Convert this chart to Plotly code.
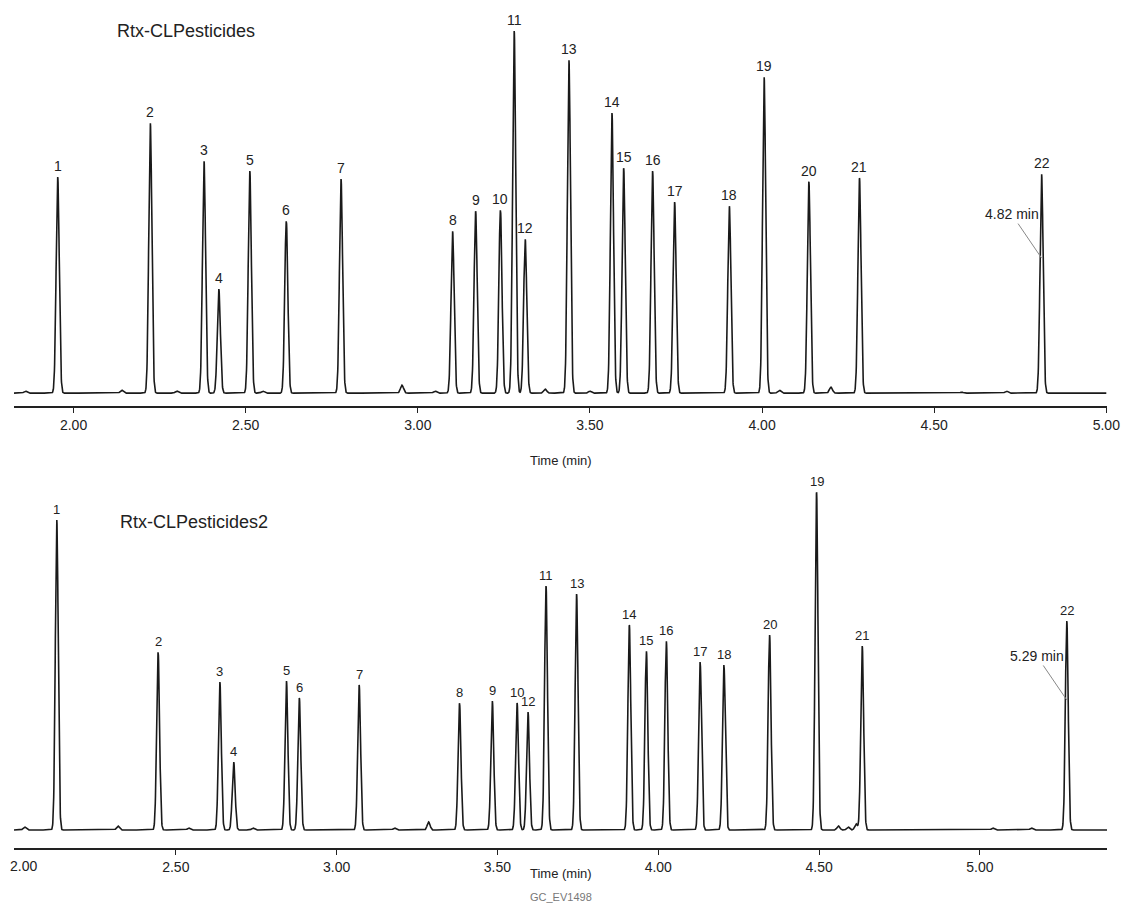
import numpy as np
import plotly.graph_objects as go

# peak retention times (min) and heights, Rtx-CLPesticides
top_rt = [1.954, 2.223, 2.379, 2.422, 2.512, 2.618, 2.777, 3.101, 3.168, 3.240, 3.280,
          3.312, 3.439, 3.564, 3.598, 3.682, 3.746, 3.905, 4.006, 4.136, 4.283, 4.812]
top_h = [216, 270, 232, 104, 222, 172, 214, 162, 182, 183, 362,
         154, 333, 280, 225, 222, 191, 187, 316, 211, 215, 219]
top_small_rt = [1.86, 2.14, 2.30, 2.55, 2.954, 3.05, 3.37, 3.50, 4.05, 4.20, 4.58, 4.71]
top_small_h = [2, 3, 2, 2, 8, 2, 4, 2, 3, 6, 1, 2]

# Rtx-CLPesticides2
bot_rt = [2.130, 2.445, 2.637, 2.680, 2.844, 2.884, 3.070, 3.382, 3.484, 3.561, 3.651,
          3.595, 3.746, 3.910, 3.963, 4.025, 4.130, 4.204, 4.492, 4.346, 4.634, 5.270]
bot_h = [310, 178, 148, 68, 149, 132, 145, 127, 129, 127, 244,
         118, 236, 205, 179, 189, 168, 165, 338, 195, 184, 209]
bot_small_rt = [2.03, 2.32, 2.54, 2.74, 3.286, 3.18, 4.56, 4.59, 4.615, 5.04, 5.16]
bot_small_h = [3, 4, 2, 2, 8, 2, 4, 3, 6, 2, 2]

labels = [str(i) for i in range(1, 23)]


def trace(t, rts, hs, srt, sh, sig):
    y = np.zeros_like(t)
    for r, h in zip(list(rts) + list(srt), list(hs) + list(sh)):
        y += h * np.exp(-0.5 * ((t - r) / sig) ** 2)
    return y


t1 = np.linspace(1.827, 5.0, 6000)
t2 = np.linspace(1.997, 5.41, 6000)
y1 = trace(t1, top_rt, top_h, top_small_rt, top_small_h, 0.0045)
y2 = trace(t2, bot_rt, bot_h, bot_small_rt, bot_small_h, 0.0045)

fig = go.Figure()
fig.add_trace(go.Scatter(x=t1, y=y1, mode="lines", line=dict(color="#1a1a1a", width=1.6),
                         xaxis="x", yaxis="y", hoverinfo="skip"))
fig.add_trace(go.Scatter(x=t2, y=y2, mode="lines", line=dict(color="#1a1a1a", width=1.6),
                         xaxis="x2", yaxis="y2", hoverinfo="skip"))

font = dict(family="Liberation Sans, Arial, sans-serif", size=14, color="#222")
H = 840  # plot area height in px
ann = []
for r, h, lab in zip(top_rt, top_h, labels):
    ann.append(dict(x=r, y=h, xref="x", yref="y", text=lab, showarrow=False,
                    yanchor="bottom", yshift=1, font=font))
for r, h, lab in zip(bot_rt, bot_h, labels):
    ann.append(dict(x=r, y=h, xref="x2", yref="y2", text=lab, showarrow=False,
                    yanchor="bottom", yshift=1, font=dict(font, size=13)))
ann += [
    dict(x=2.12, y=362, xref="x", yref="y", text="Rtx-CLPesticides", showarrow=False,
         xanchor="left", font=dict(font, size=18)),
    dict(x=2.32, y=308, xref="x2", yref="y2", text="Rtx-CLPesticides2", showarrow=False,
         xanchor="left", font=dict(font, size=18)),
    dict(x=4.812, y=135, xref="x", yref="y", text="4.82 min", showarrow=True, arrowhead=0,
         arrowcolor="#888", arrowwidth=1, ax=-30, ay=-44, font=font),
    dict(x=5.270, y=130, xref="x2", yref="y2", text="5.29 min", showarrow=True, arrowhead=0,
         arrowcolor="#888", arrowwidth=1, ax=-30, ay=-44, font=font),
    dict(x=0.5, y=(H - 452) / H, xref="paper", yref="paper", text="Time (min)", showarrow=False,
         font=dict(font, size=13)),
    dict(x=0.5, y=-35 / H, xref="paper", yref="paper", text="Time (min)", showarrow=False,
         font=dict(font, size=13)),
    dict(x=0.5, y=-57 / H, xref="paper", yref="paper", text="GC_EV1498", showarrow=False,
         font=dict(font, size=11, color="#777")),
    # edge tick label that Plotly would drop
    dict(x=2.0, y=-8 / H, xref="x2", yref="paper", text="2.00", showarrow=False,
         xanchor="left", xshift=-7, yanchor="top", font=font),
]

xax = dict(showline=True, linecolor="#222", linewidth=1.5, ticks="outside", ticklen=5,
           tickcolor="#222", showgrid=False, zeroline=False, tickformat=".2f",
           tickfont=font)
yax = dict(visible=False, showgrid=False, zeroline=False)

fig.update_layout(
    width=1121, height=912, plot_bgcolor="white", paper_bgcolor="white",
    margin=dict(l=6, r=22, t=0, b=72), showlegend=False,
    xaxis=dict(xax, range=[1.827, 5.002], dtick=0.5, tick0=2.0, anchor="y"),
    yaxis=dict(yax, domain=[0.526, 1.0], range=[-13, 385]),
    xaxis2=dict(xax, range=[1.997, 5.395], tickvals=[2.5, 3.0, 3.5, 4.0, 4.5, 5.0], anchor="y2"),
    yaxis2=dict(yax, domain=[0.0, 0.4786], range=[-18, 384]),
    annotations=ann,
)

fig.write_html("out.html")
